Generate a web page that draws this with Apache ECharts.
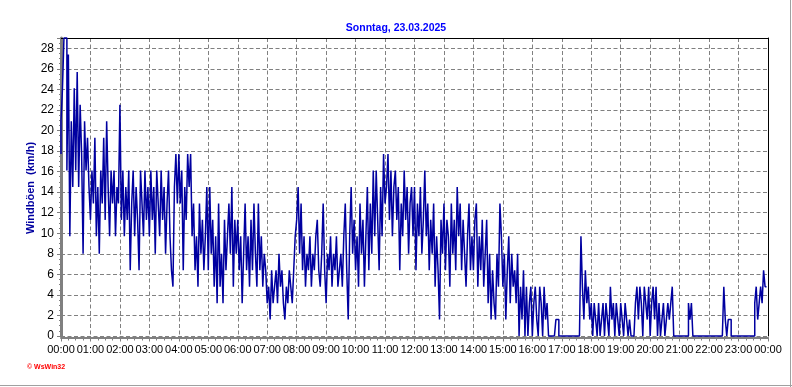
<!DOCTYPE html>
<html><head><meta charset="utf-8">
<script src="https://cdn.jsdelivr.net/npm/echarts@6/dist/echarts.min.js"></script>
<style>html,body{margin:0;padding:0;background:#fff}#c{width:792px;height:387px}</style>
</head><body><div id="c"></div>
<script>
const titleText = 'Sonntag, 23.03.2025';
const yAxisTitle = 'Windböen  (km/h)';
const creditText = '\u00a9 WsWin32';
const stepMinutes = 3;
const hourLabels = ['00:00','01:00','02:00','03:00','04:00','05:00','06:00','07:00','08:00','09:00','10:00','11:00','12:00','13:00','14:00','15:00','16:00','17:00','18:00','19:00','20:00','21:00','22:00','23:00','00:00'];
const yTickLabels = ['0','2','4','6','8','10','12','14','16','18','20','22','24','26','28'];

// gusts in km/h, one value every 3 minutes
const gust00to06 = [
 17.7,20.9,24.1,29.0,29.0,16.1,27.4,9.7,20.9,14.5,24.1,16.1,25.7,14.5,22.5,17.7,8.0,20.9,16.1,19.3,
 14.5,11.3,16.1,12.9,19.3,9.7,14.5,8.0,16.1,12.9,19.3,11.3,20.9,14.5,9.7,16.1,12.9,16.1,9.7,14.5,
 12.9,22.5,11.3,16.1,9.7,14.5,11.3,16.1,6.4,12.9,16.1,9.7,14.5,11.3,6.4,16.1,12.9,9.7,16.1,11.3,
 14.5,9.7,16.1,11.3,14.5,8.0,16.1,12.9,9.7,16.1,11.3,14.5,8.0,12.9,16.1,9.7,6.4,4.8,14.5,17.7,
 12.9,17.7,12.9,16.1,6.4,14.5,11.3,17.7,14.5,17.7,9.7,12.9,6.4,9.7,4.8,12.9,8.0,11.3,6.4,9.7,
 14.5,6.4,14.5,8.0,11.3,4.8,9.7,3.2,12.9,4.8,8.0,3.2,11.3,6.4,9.7,12.9,8.0,14.5,4.8,11.3
];
const gust06to12 = [
 8.0,11.3,6.4,9.7,3.2,8.0,12.9,6.4,9.7,4.8,11.3,6.4,12.9,8.0,4.8,12.9,6.4,9.7,4.8,8.0,
 6.4,3.2,4.8,1.6,6.4,3.2,4.8,6.4,3.2,8.0,4.8,6.4,3.2,1.6,4.8,3.2,6.4,4.8,3.2,6.4,
 9.7,11.3,14.5,8.0,12.9,6.4,9.7,4.8,8.0,6.4,9.7,4.8,8.0,6.4,9.7,11.3,6.4,4.8,8.0,12.9,
 6.4,3.2,8.0,6.4,9.7,4.8,8.0,6.4,9.7,4.8,6.4,8.0,4.8,9.7,12.9,6.4,1.6,9.7,14.5,8.0,
 11.3,6.4,9.7,4.8,12.9,8.0,11.3,4.8,9.7,14.5,6.4,12.9,8.0,16.1,9.7,16.1,11.3,6.4,14.5,9.7,
 17.7,12.9,14.5,17.7,11.3,16.1,9.7,14.5,16.1,11.3,14.5,6.4,12.9,9.7,16.1,11.3,14.5,8.0,12.9,14.5
];
const gust12to18 = [
 9.7,14.5,6.4,12.9,9.7,14.5,8.0,11.3,16.1,9.7,12.9,6.4,11.3,8.0,12.9,4.8,9.7,6.4,1.6,11.3,
 8.0,12.9,6.4,11.3,9.7,4.8,12.9,8.0,11.3,6.4,14.5,9.7,12.9,6.4,11.3,8.0,4.8,9.7,12.9,6.4,
 9.7,6.4,11.3,12.9,4.8,9.7,6.4,11.3,4.8,8.0,11.3,3.2,8.0,1.6,6.4,3.2,1.6,8.0,4.8,12.9,
 9.7,4.8,8.0,1.6,6.4,9.7,3.2,8.0,4.8,6.4,3.2,8.0,0,4.8,1.6,6.4,0,4.8,0,3.2,
 4.8,0,3.2,4.8,1.6,0,4.8,3.2,0,4.8,1.6,3.2,0,0,0,0,0,1.6,1.6,0,
 0,0,0,0,0,0,0,0,0,0,0,0,0,0,9.7,4.8,1.6,6.4,3.2,4.8
];
const gust18to24 = [
 1.6,3.2,0,3.2,1.6,0,3.2,0,1.6,3.2,0,3.2,1.6,0,4.8,1.6,3.2,0,3.2,1.6,
 0,3.2,1.6,0,3.2,1.6,0,1.6,0,0,0,3.2,4.8,1.6,4.8,3.2,0,4.8,3.2,1.6,
 4.8,0,3.2,4.8,1.6,4.8,0,3.2,0,1.6,3.2,0,1.6,3.2,1.6,3.2,4.8,0,0,0,
 0,0,0,0,0,0,0,3.2,1.6,3.2,0,0,0,0,0,0,0,0,0,0,
 0,0,0,0,0,0,0,0,0,0,0,4.8,1.6,0,1.6,1.6,0,0,0,0,
 0,0,0,0,0,0,0,0,0,0,0,0,3.2,4.8,1.6,3.2,4.8,3.2,6.4,4.8
];

const gusts = gust00to06.concat(gust06to12, gust12to18, gust18to24);
const seriesData = gusts.map((v, i) => [i * stepMinutes, v]);

const FONT = 'Liberation Sans, Arial, sans-serif';
const GRID_GRAY = '#808080';
const chart = echarts.init(document.getElementById('c'), null, {renderer: 'canvas'});
chart.setOption({
  animation: false,
  backgroundColor: '#ffffff',
  title: {
    text: titleText, left: 'center', top: 18,
    textStyle: {color: '#0000ff', fontSize: 10.5, fontWeight: 'bold', fontFamily: FONT}
  },
  grid: {left: 61, right: 24, top: 38, bottom: 51, containLabel: false},
  xAxis: [{
    type: 'value', min: 0, max: 1440, interval: 60, position: 'bottom', offset: 1.5,
    axisLine: {show: true, onZero: false, lineStyle: {color: GRID_GRAY, width: 2}},
    axisTick: {show: true, length: 4, lineStyle: {color: GRID_GRAY, width: 1}},
    minorTick: {show: true, splitNumber: 4, length: 3, lineStyle: {color: GRID_GRAY, width: 1}},
    splitLine: {show: true, lineStyle: {color: GRID_GRAY, width: 1, type: [4, 2.5]}},
    axisLabel: {color: '#000', fontSize: 11, fontFamily: FONT, margin: 7,
      formatter: v => hourLabels[Math.round(v / 60)]}
  }, {
    type: 'value', min: 0, max: 1440, position: 'top',
    axisLine: {show: true, onZero: false, lineStyle: {color: '#000', width: 1}},
    axisTick: {show: false}, axisLabel: {show: false}, splitLine: {show: false}
  }],
  yAxis: [{
    type: 'value', min: 0, max: 29, interval: 2, position: 'left',
    axisLine: {show: true, onZero: false, lineStyle: {color: GRID_GRAY, width: 3}},
    axisTick: {show: true, length: 4, lineStyle: {color: GRID_GRAY, width: 1}},
    minorTick: {show: true, splitNumber: 4, length: 2, lineStyle: {color: GRID_GRAY, width: 1}},
    splitLine: {show: true, lineStyle: {color: GRID_GRAY, width: 1, type: [4, 2.5]}},
    axisLabel: {color: '#000', fontSize: 12, fontFamily: FONT, margin: 7, showMaxLabel: false,
      formatter: v => { const k = Math.round(v / 2); return (v % 2 === 0 && yTickLabels[k] !== undefined) ? yTickLabels[k] : ''; }}
  }, {
    type: 'value', min: 0, max: 29, position: 'right',
    axisLine: {show: true, onZero: false, lineStyle: {color: '#000', width: 1}},
    axisTick: {show: false}, axisLabel: {show: false}, splitLine: {show: false}
  }],
  series: [{
    type: 'line', step: 'start', xAxisIndex: 0, yAxisIndex: 0,
    data: seriesData, showSymbol: false, symbol: 'none',
    lineStyle: {color: '#0000a0', width: 1.5}, clip: false, z: 10
  }],
  graphic: [
    {type: 'text', x: 31, y: 188, rotation: Math.PI / 2,
      style: {text: yAxisTitle, fill: '#0000a0', font: 'bold 11px ' + FONT, align: 'center', verticalAlign: 'middle'}},
    {type: 'text', x: 27, y: 367,
      style: {text: creditText, fill: '#ff0000', font: 'bold 7px ' + FONT, align: 'left', verticalAlign: 'middle'}},
    {type: 'line', shape: {x1: 790.5, y1: 0, x2: 790.5, y2: 387}, style: {stroke: '#a0a0a0', lineWidth: 1}},
    {type: 'line', shape: {x1: 0, y1: 385.5, x2: 792, y2: 385.5}, style: {stroke: '#a0a0a0', lineWidth: 1}}
  ]
});
</script></body></html>
